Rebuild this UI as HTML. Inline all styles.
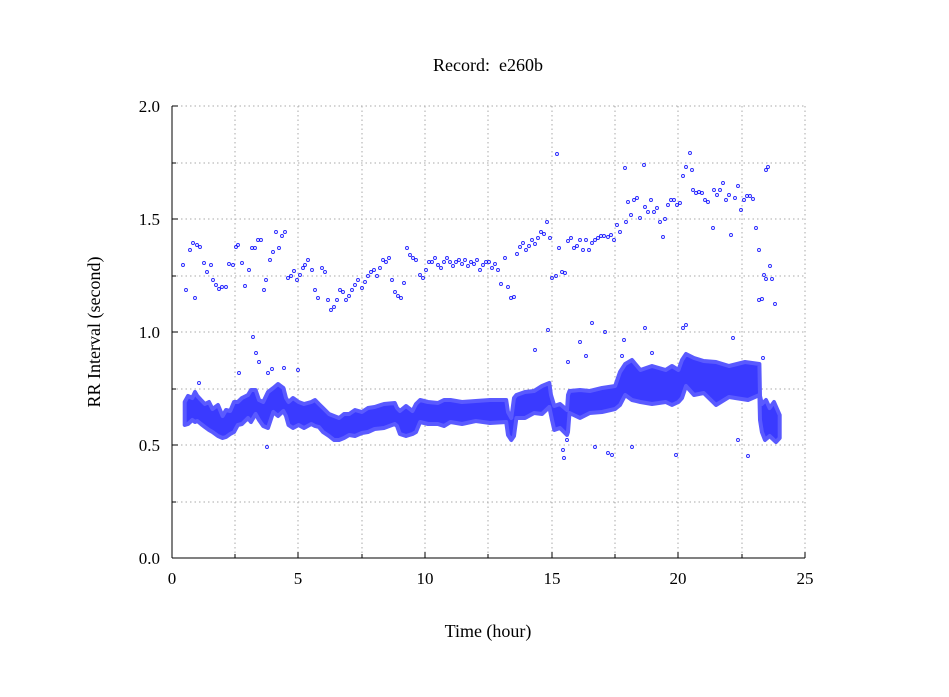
<!DOCTYPE html>
<html><head><meta charset="utf-8"><style>
body{margin:0;background:#fff;}
svg{display:block;font-family:"Liberation Serif",serif;}
</style></head><body>
<svg width="949" height="697" xmlns="http://www.w3.org/2000/svg">
<rect width="949" height="697" fill="#fff"/>
<g stroke="#aaa" stroke-dasharray="1.5,3" stroke-width="1">
<line x1="235" y1="106" x2="235" y2="558"/><line x1="298" y1="106" x2="298" y2="558"/>
<line x1="362" y1="106" x2="362" y2="558"/><line x1="425" y1="106" x2="425" y2="558"/>
<line x1="488" y1="106" x2="488" y2="558"/><line x1="552" y1="106" x2="552" y2="558"/>
<line x1="615" y1="106" x2="615" y2="558"/><line x1="678" y1="106" x2="678" y2="558"/>
<line x1="742" y1="106" x2="742" y2="558"/><line x1="805" y1="106" x2="805" y2="558"/>
<line x1="172" y1="106" x2="805" y2="106"/><line x1="172" y1="163" x2="805" y2="163"/>
<line x1="172" y1="219" x2="805" y2="219"/><line x1="172" y1="276" x2="805" y2="276"/>
<line x1="172" y1="332" x2="805" y2="332"/><line x1="172" y1="389" x2="805" y2="389"/>
<line x1="172" y1="445" x2="805" y2="445"/><line x1="172" y1="502" x2="805" y2="502"/>
</g>
<polygon fill="#3a3aff" stroke="#5a5aff" stroke-width="4" stroke-linejoin="round" points="
184.7,402 188,396 192.3,398 195,392 197.3,396 201,400 204.9,404 209,402 212.5,409 218,405 222.6,416 226,410 230.2,411 234,402 237.8,402 242,398 248,395 251,390 255.6,390 259,400 263.2,402 268,392 273.3,388 278,384 283.4,388 286,398 288.5,402 293,398 298.6,402 304,404 311.3,402 315,400 318.9,404 323,408 329,414 334,416 339.1,418 344,414 349.2,414 355,410 361.9,412 368,408 374.6,407 384,404 394.8,403 397,408 399.9,411 406,406 412.5,411 416,404 420.1,400 428,402 437.9,403 444,400 450.5,400 462,402 475.8,401 490,400 506.2,400 508,412 511.3,418 514,398 516.4,395 525,392 534.1,391 542,386 549.3,383 551,395 554.3,406 560,404 567,410 568,395 569.5,391 580,390 589.8,391 602,388 615.1,386 620,372 625.2,364 632,360 640.4,370 652,366 665.7,370 672,366 678.4,370 682,360 686,354 694,358 703.7,361 716,362 729,366 745,362 759.4,364 760,396 761.9,404 766,400 769.6,408 774,402 779.7,415
779.7,438 776,442 769.6,436 765,440 761.9,432 760,420 759.4,395 748,400 729,397 716,405 703.7,393 694,395 686,386 682,398 678.4,402 672,405 665.7,402 652,404 640.4,402 632,400 625.2,395 620,405 615.1,409 602,412 589.8,413 580,418 569.5,413 568,432 567,435 560,428 554.3,430 552,420 549.3,407 542,414 534.1,413 525,418 516.4,418 514,436 511.3,440 508,435 506.2,422 490,423 475.8,421 462,424 450.5,422 444,426 437.9,424 428,424 420.1,422 416,432 412.5,434 406,436 399.9,434 397,426 394.8,424 384,428 374.6,429 368,432 361.9,433 355,436 349.2,435 344,438 339.1,440 334,440 329,436 323,432 318.9,427 315,426 311.3,424 304,428 298.6,425 293,428 288.5,425 286,416 283.4,411 278,416 273.3,412 268,428 263.2,426 259,420 255.6,414 251,422 248,418 242,424 237.8,425 234,432 230.2,434 226,437 222.6,438 218,436 212.5,432 209,430 204.9,427 201,424 197.3,421 195,422 192.3,420 188,424 184.7,425"/>
<g fill="none" stroke="#0000ff" stroke-width="0.9" stroke-opacity="0.85">
<circle cx="183" cy="265" r="1.5"/><circle cx="186" cy="290" r="1.5"/><circle cx="190" cy="250" r="1.5"/><circle cx="193" cy="243" r="1.5"/><circle cx="195" cy="298" r="1.5"/><circle cx="197" cy="245" r="1.5"/><circle cx="200" cy="247" r="1.5"/><circle cx="204" cy="263" r="1.5"/><circle cx="207" cy="272" r="1.5"/><circle cx="211" cy="265" r="1.5"/><circle cx="213" cy="280" r="1.5"/><circle cx="216" cy="285" r="1.5"/><circle cx="219" cy="289" r="1.5"/><circle cx="222" cy="287" r="1.5"/><circle cx="226" cy="287" r="1.5"/><circle cx="229" cy="264" r="1.5"/><circle cx="233" cy="265" r="1.5"/><circle cx="236" cy="247" r="1.5"/><circle cx="238" cy="245" r="1.5"/><circle cx="242" cy="263" r="1.5"/><circle cx="245" cy="286" r="1.5"/><circle cx="249" cy="270" r="1.5"/><circle cx="252" cy="248" r="1.5"/><circle cx="255" cy="248" r="1.5"/><circle cx="258" cy="240" r="1.5"/><circle cx="261" cy="240" r="1.5"/><circle cx="264" cy="290" r="1.5"/><circle cx="266" cy="280" r="1.5"/><circle cx="270" cy="260" r="1.5"/><circle cx="273" cy="252" r="1.5"/><circle cx="276" cy="232" r="1.5"/><circle cx="279" cy="248" r="1.5"/><circle cx="282" cy="236" r="1.5"/><circle cx="285" cy="232" r="1.5"/><circle cx="288" cy="278" r="1.5"/><circle cx="291" cy="276" r="1.5"/><circle cx="294" cy="271" r="1.5"/><circle cx="297" cy="280" r="1.5"/><circle cx="300" cy="275" r="1.5"/><circle cx="303" cy="268" r="1.5"/><circle cx="305" cy="265" r="1.5"/><circle cx="308" cy="260" r="1.5"/><circle cx="312" cy="270" r="1.5"/><circle cx="315" cy="290" r="1.5"/><circle cx="318" cy="298" r="1.5"/><circle cx="322" cy="268" r="1.5"/><circle cx="325" cy="272" r="1.5"/><circle cx="328" cy="300" r="1.5"/><circle cx="331" cy="310" r="1.5"/><circle cx="334" cy="307" r="1.5"/><circle cx="337" cy="300" r="1.5"/><circle cx="340" cy="290" r="1.5"/><circle cx="343" cy="292" r="1.5"/><circle cx="346" cy="300" r="1.5"/><circle cx="349" cy="296" r="1.5"/><circle cx="352" cy="290" r="1.5"/><circle cx="355" cy="285" r="1.5"/><circle cx="358" cy="280" r="1.5"/><circle cx="362" cy="288" r="1.5"/><circle cx="365" cy="282" r="1.5"/><circle cx="368" cy="276" r="1.5"/><circle cx="371" cy="272" r="1.5"/><circle cx="374" cy="270" r="1.5"/><circle cx="377" cy="276" r="1.5"/><circle cx="380" cy="268" r="1.5"/><circle cx="383" cy="260" r="1.5"/><circle cx="386" cy="262" r="1.5"/><circle cx="389" cy="258" r="1.5"/><circle cx="392" cy="280" r="1.5"/><circle cx="395" cy="292" r="1.5"/><circle cx="398" cy="296" r="1.5"/><circle cx="401" cy="298" r="1.5"/><circle cx="404" cy="283" r="1.5"/><circle cx="407" cy="248" r="1.5"/><circle cx="410" cy="255" r="1.5"/><circle cx="413" cy="258" r="1.5"/><circle cx="416" cy="260" r="1.5"/><circle cx="420" cy="275" r="1.5"/><circle cx="423" cy="278" r="1.5"/><circle cx="426" cy="270" r="1.5"/><circle cx="429" cy="262" r="1.5"/><circle cx="432" cy="262" r="1.5"/><circle cx="435" cy="258" r="1.5"/><circle cx="438" cy="265" r="1.5"/><circle cx="441" cy="268" r="1.5"/><circle cx="444" cy="262" r="1.5"/><circle cx="447" cy="258" r="1.5"/><circle cx="450" cy="262" r="1.5"/><circle cx="453" cy="266" r="1.5"/><circle cx="456" cy="262" r="1.5"/><circle cx="459" cy="260" r="1.5"/><circle cx="462" cy="264" r="1.5"/><circle cx="465" cy="260" r="1.5"/><circle cx="468" cy="266" r="1.5"/><circle cx="471" cy="262" r="1.5"/><circle cx="474" cy="264" r="1.5"/><circle cx="477" cy="260" r="1.5"/><circle cx="480" cy="270" r="1.5"/><circle cx="483" cy="265" r="1.5"/><circle cx="486" cy="262" r="1.5"/><circle cx="489" cy="262" r="1.5"/><circle cx="492" cy="268" r="1.5"/><circle cx="495" cy="264" r="1.5"/><circle cx="498" cy="270" r="1.5"/><circle cx="501" cy="284" r="1.5"/><circle cx="505" cy="258" r="1.5"/><circle cx="508" cy="287" r="1.5"/><circle cx="511" cy="298" r="1.5"/><circle cx="514" cy="297" r="1.5"/><circle cx="517" cy="254" r="1.5"/><circle cx="520" cy="247" r="1.5"/><circle cx="523" cy="243" r="1.5"/><circle cx="526" cy="250" r="1.5"/><circle cx="529" cy="246" r="1.5"/><circle cx="532" cy="240" r="1.5"/><circle cx="535" cy="244" r="1.5"/><circle cx="538" cy="238" r="1.5"/><circle cx="541" cy="232" r="1.5"/><circle cx="544" cy="234" r="1.5"/><circle cx="547" cy="222" r="1.5"/><circle cx="550" cy="238" r="1.5"/><circle cx="552" cy="278" r="1.5"/><circle cx="557" cy="154" r="1.5"/><circle cx="556" cy="276" r="1.5"/><circle cx="559" cy="248" r="1.5"/><circle cx="562" cy="272" r="1.5"/><circle cx="565" cy="273" r="1.5"/><circle cx="568" cy="241" r="1.5"/><circle cx="571" cy="238" r="1.5"/><circle cx="574" cy="248" r="1.5"/><circle cx="577" cy="246" r="1.5"/><circle cx="580" cy="240" r="1.5"/><circle cx="583" cy="250" r="1.5"/><circle cx="586" cy="240" r="1.5"/><circle cx="589" cy="250" r="1.5"/><circle cx="592" cy="243" r="1.5"/><circle cx="595" cy="240" r="1.5"/><circle cx="598" cy="238" r="1.5"/><circle cx="601" cy="236" r="1.5"/><circle cx="604" cy="236" r="1.5"/><circle cx="608" cy="237" r="1.5"/><circle cx="611" cy="235" r="1.5"/><circle cx="614" cy="240" r="1.5"/><circle cx="617" cy="225" r="1.5"/><circle cx="620" cy="232" r="1.5"/><circle cx="625" cy="168" r="1.5"/><circle cx="626" cy="222" r="1.5"/><circle cx="628" cy="202" r="1.5"/><circle cx="631" cy="215" r="1.5"/><circle cx="634" cy="200" r="1.5"/><circle cx="637" cy="198" r="1.5"/><circle cx="640" cy="218" r="1.5"/><circle cx="644" cy="165" r="1.5"/><circle cx="645" cy="207" r="1.5"/><circle cx="648" cy="212" r="1.5"/><circle cx="651" cy="200" r="1.5"/><circle cx="654" cy="212" r="1.5"/><circle cx="657" cy="208" r="1.5"/><circle cx="660" cy="222" r="1.5"/><circle cx="663" cy="237" r="1.5"/><circle cx="665" cy="219" r="1.5"/><circle cx="668" cy="205" r="1.5"/><circle cx="671" cy="200" r="1.5"/><circle cx="674" cy="200" r="1.5"/><circle cx="677" cy="205" r="1.5"/><circle cx="680" cy="203" r="1.5"/><circle cx="683" cy="176" r="1.5"/><circle cx="686" cy="167" r="1.5"/><circle cx="690" cy="153" r="1.5"/><circle cx="692" cy="170" r="1.5"/><circle cx="693" cy="190" r="1.5"/><circle cx="696" cy="193" r="1.5"/><circle cx="699" cy="192" r="1.5"/><circle cx="702" cy="193" r="1.5"/><circle cx="705" cy="200" r="1.5"/><circle cx="708" cy="202" r="1.5"/><circle cx="713" cy="228" r="1.5"/><circle cx="714" cy="190" r="1.5"/><circle cx="717" cy="195" r="1.5"/><circle cx="720" cy="190" r="1.5"/><circle cx="723" cy="183" r="1.5"/><circle cx="726" cy="200" r="1.5"/><circle cx="729" cy="195" r="1.5"/><circle cx="731" cy="235" r="1.5"/><circle cx="735" cy="198" r="1.5"/><circle cx="738" cy="186" r="1.5"/><circle cx="741" cy="210" r="1.5"/><circle cx="744" cy="200" r="1.5"/><circle cx="747" cy="196" r="1.5"/><circle cx="750" cy="196" r="1.5"/><circle cx="753" cy="199" r="1.5"/><circle cx="756" cy="228" r="1.5"/><circle cx="759" cy="250" r="1.5"/><circle cx="759" cy="300" r="1.5"/><circle cx="762" cy="299" r="1.5"/><circle cx="764" cy="275" r="1.5"/><circle cx="766" cy="170" r="1.5"/><circle cx="768" cy="167" r="1.5"/><circle cx="766" cy="279" r="1.5"/><circle cx="770" cy="266" r="1.5"/><circle cx="772" cy="279" r="1.5"/><circle cx="775" cy="304" r="1.5"/>
<circle cx="199" cy="383" r="1.5"/><circle cx="253" cy="337" r="1.5"/><circle cx="259" cy="362" r="1.5"/><circle cx="256" cy="353" r="1.5"/><circle cx="268" cy="373" r="1.5"/><circle cx="272" cy="369" r="1.5"/><circle cx="239" cy="373" r="1.5"/><circle cx="267" cy="447" r="1.5"/><circle cx="284" cy="368" r="1.5"/><circle cx="298" cy="370" r="1.5"/><circle cx="535" cy="350" r="1.5"/><circle cx="548" cy="330" r="1.5"/><circle cx="563" cy="450" r="1.5"/><circle cx="564" cy="458" r="1.5"/><circle cx="567" cy="440" r="1.5"/><circle cx="568" cy="362" r="1.5"/><circle cx="580" cy="342" r="1.5"/><circle cx="586" cy="356" r="1.5"/><circle cx="592" cy="323" r="1.5"/><circle cx="595" cy="447" r="1.5"/><circle cx="605" cy="332" r="1.5"/><circle cx="608" cy="453" r="1.5"/><circle cx="612" cy="455" r="1.5"/><circle cx="622" cy="356" r="1.5"/><circle cx="624" cy="340" r="1.5"/><circle cx="632" cy="447" r="1.5"/><circle cx="645" cy="328" r="1.5"/><circle cx="652" cy="353" r="1.5"/><circle cx="676" cy="455" r="1.5"/><circle cx="683" cy="328" r="1.5"/><circle cx="686" cy="325" r="1.5"/><circle cx="733" cy="338" r="1.5"/><circle cx="738" cy="440" r="1.5"/><circle cx="748" cy="456" r="1.5"/><circle cx="763" cy="358" r="1.5"/>
</g>
<g stroke="#000" stroke-width="1">
<line x1="172" y1="106" x2="172" y2="558"/><line x1="172" y1="558" x2="805" y2="558"/>
<line x1="172" y1="106" x2="178" y2="106"/><line x1="172" y1="163" x2="176" y2="163"/>
<line x1="172" y1="219" x2="178" y2="219"/><line x1="172" y1="276" x2="176" y2="276"/>
<line x1="172" y1="332" x2="178" y2="332"/><line x1="172" y1="389" x2="176" y2="389"/>
<line x1="172" y1="445" x2="178" y2="445"/><line x1="172" y1="502" x2="176" y2="502"/>
<line x1="235" y1="558" x2="235" y2="554"/><line x1="298" y1="558" x2="298" y2="552"/>
<line x1="362" y1="558" x2="362" y2="554"/><line x1="425" y1="558" x2="425" y2="552"/>
<line x1="488" y1="558" x2="488" y2="554"/><line x1="552" y1="558" x2="552" y2="552"/>
<line x1="615" y1="558" x2="615" y2="554"/><line x1="678" y1="558" x2="678" y2="552"/>
<line x1="742" y1="558" x2="742" y2="554"/><line x1="805" y1="558" x2="805" y2="552"/>
</g>
<g font-size="17" fill="#000">
<text x="488" y="71" text-anchor="middle" font-size="18" xml:space="preserve">Record:  e260b</text>
<text x="160" y="112" text-anchor="end">2.0</text>
<text x="160" y="225" text-anchor="end">1.5</text>
<text x="160" y="338" text-anchor="end">1.0</text>
<text x="160" y="451" text-anchor="end">0.5</text>
<text x="160" y="564" text-anchor="end">0.0</text>
<text x="172" y="584" text-anchor="middle">0</text>
<text x="298" y="584" text-anchor="middle">5</text>
<text x="425" y="584" text-anchor="middle">10</text>
<text x="552" y="584" text-anchor="middle">15</text>
<text x="678" y="584" text-anchor="middle">20</text>
<text x="805" y="584" text-anchor="middle">25</text>
<text x="488" y="637" text-anchor="middle" font-size="18">Time (hour)</text>
<text transform="translate(100,332) rotate(-90)" text-anchor="middle" font-size="18">RR Interval (second)</text>
</g>
</svg>
</body></html>
